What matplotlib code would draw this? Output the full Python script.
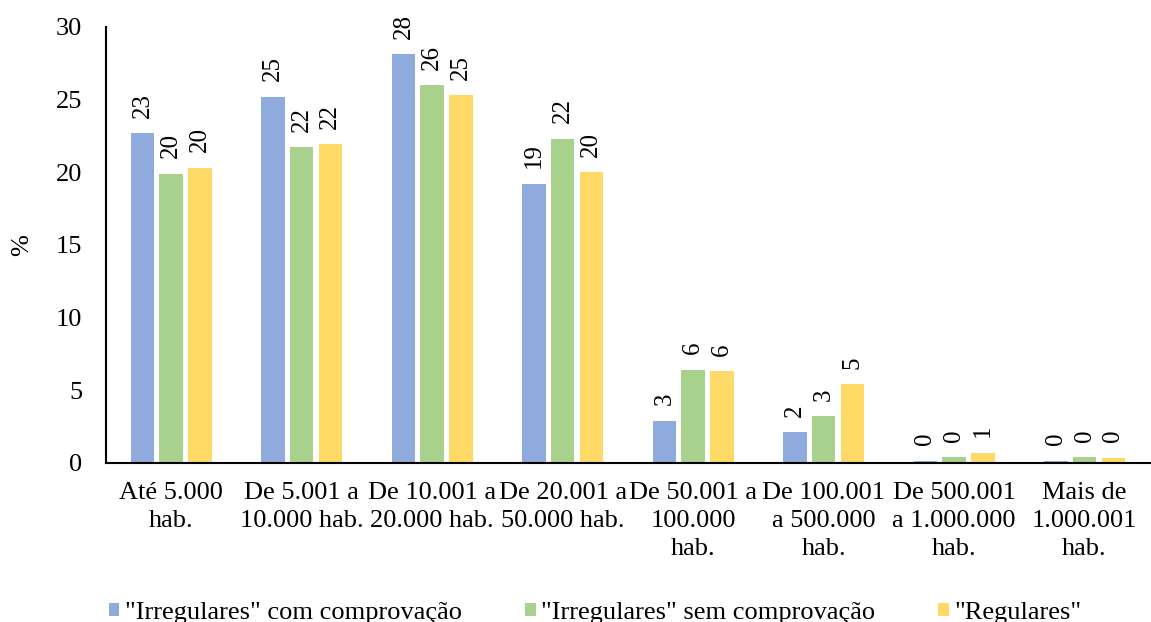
import matplotlib
matplotlib.use('Agg')
import matplotlib.pyplot as plt
import numpy as np

plt.rcParams['font.family'] = ['Liberation Serif', 'DejaVu Serif']

categories = ["Até 5.000\nhab.", "De 5.001 a\n10.000 hab.", "De 10.001 a\n20.000 hab.",
              "De 20.001 a\n50.000 hab.", "De 50.001 a\n100.000\nhab.",
              "De 100.001\na 500.000\nhab.", "De 500.001\na 1.000.000\nhab.",
              "Mais de\n1.000.001\nhab."]
irreg_com = [22.7, 25.2, 28.1, 19.2, 2.9, 2.1, 0.15, 0.15]
irreg_sem = [19.9, 21.7, 26.0, 22.3, 6.4, 3.2, 0.4, 0.4]
regulares = [20.3, 21.9, 25.3, 20.0, 6.3, 5.4, 0.7, 0.35]
series_names = ['"Irregulares" com comprovação', '"Irregulares" sem comprovação', '"Regulares"']
colors = ['#8FAADC', '#A9D18E', '#FFD966']

fs = 19

fig = plt.figure(figsize=(11.51, 6.22), dpi=100)
ax = fig.add_axes([0.092, 0.256, 0.907, 0.701])

x = np.arange(len(categories))
w = 0.18
step = 0.22
for i, (vals, name, c) in enumerate(zip([irreg_com, irreg_sem, regulares], series_names, colors)):
    bars = ax.bar(x + (i - 1) * step, vals, w, color=c, label=name)
    for b, v in zip(bars, vals):
        ax.annotate(f"{v:.0f}", (b.get_x() + b.get_width() / 2, v), xytext=(0, 11),
                    textcoords='offset points', rotation=90,
                    ha='center', va='bottom', fontsize=18)

ax.set_xlim(-0.5, len(categories) - 0.5)
ax.set_ylim(0, 30)
ax.set_yticks(range(0, 31, 5))
ax.set_xticks(x)
ax.set_xticklabels(categories, fontsize=fs, linespacing=1.35)
ax.tick_params(axis='y', labelsize=fs, length=0, pad=17)
ax.tick_params(axis='x', length=0, pad=14)
ax.set_ylabel('%', fontsize=fs)
ax.yaxis.set_label_coords(-0.07, 0.5)

for s in ['top', 'right']:
    ax.spines[s].set_visible(False)
ax.spines['left'].set_linewidth(1.5)
ax.spines['bottom'].set_linewidth(1.5)

fig.legend(loc='center', bbox_to_anchor=(0.517, 0.015), ncol=3, frameon=False,
           fontsize=fs, handlelength=0.4, handleheight=0.4, handletextpad=0.2,
           columnspacing=2.4)

fig.savefig('out.png', dpi=100)
